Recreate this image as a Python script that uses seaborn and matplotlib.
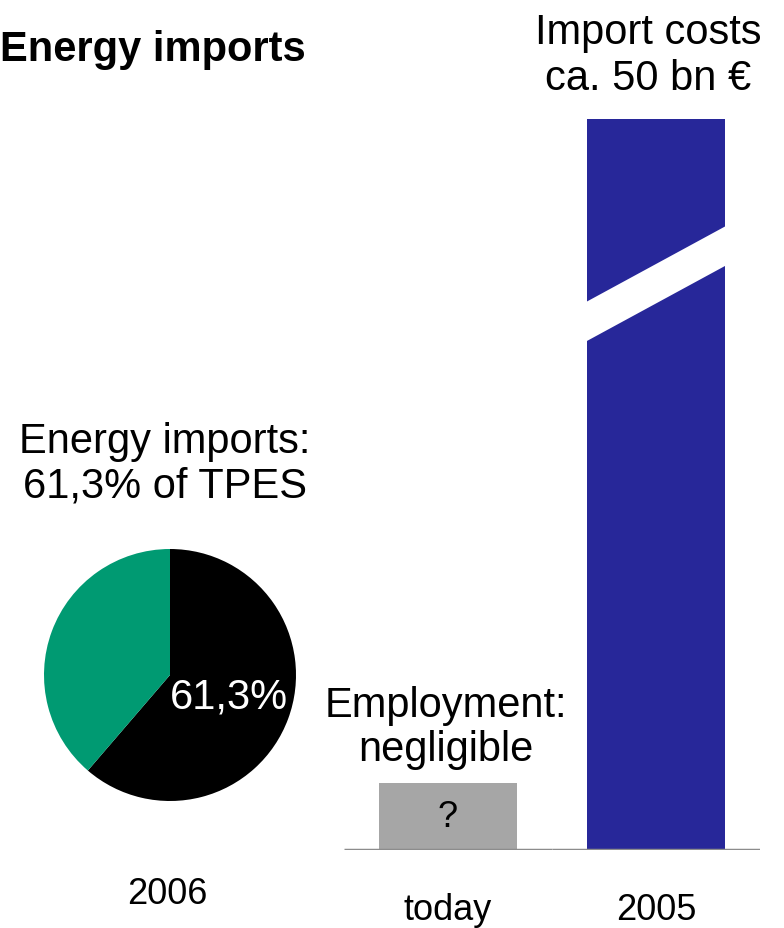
import matplotlib
matplotlib.use("Agg")
import matplotlib.pyplot as plt
import seaborn as sns
import numpy as np
import pandas as pd

# ---- data ----
pie_labels = ["Imported", "Domestic"]
pie_shares = [61.3, 38.7]
pie_year = "2006"

bar_categories = ["today", "2005"]
bar_values = [4.6, 50.0]          # relative heights (import-cost bar is broken)
bar_inner_labels = ["?", ""]
bar_top_labels = ["Employment:\nnegligible", "Import costs\nca. 50 bn \u20ac"]

title = "Energy imports"
pie_title = "Energy imports:\n61,3% of TPES"

# ---- style ----
sns.set_style("white")
plt.rcParams["font.family"] = ["Liberation Sans", "DejaVu Sans"]
plt.rcParams["text.color"] = "black"
plt.rcParams["xtick.color"] = "black"
plt.rcParams["xtick.labelcolor"] = "black"

W, H = 784, 929
fig = plt.figure(figsize=(W / 100, H / 100), dpi=100)

GREEN = "#009A72"
BLUE = "#272799"
GRAY_BAR = "#A6A6A6"
LINE = "#8C8C8C"

def fx(px):
    return px / W

def fy(py):
    return 1 - py / H

# ---- bar axes ----
axb = fig.add_axes([fx(344), fy(851), (760 - 344) / W, 751 / H])
df = pd.DataFrame({"cat": bar_categories, "val": bar_values})
sns.barplot(data=df, x="cat", y="val", hue="cat", palette=[GRAY_BAR, BLUE],
            width=0.663, saturation=1, legend=False, ax=axb, linewidth=0)
axb.set_xlim(-0.5, 1.5)
axb.set_ylim(0, bar_values[1] * 751 / 731)
for s in axb.spines.values():
    s.set_visible(False)
axb.set_yticks([])
axb.set_ylabel("")
axb.set_xlabel("")
axb.tick_params(axis="x", length=0, pad=30, labelsize=26, labelcolor="black")
for i in range(len(bar_categories)):
    axb.hlines(0, i - 0.5, i + 0.5, color=LINE, linewidth=2.5, zorder=5)

# inner label
axb.bar_label(axb.containers[0], labels=[bar_inner_labels[0]], label_type="center",
              fontsize=26, color="black")

# break in the tall bar
patch = axb.containers[1].patches[0] if len(axb.containers) > 1 else axb.patches[1]
x0 = patch.get_x() - 0.03
x1 = patch.get_x() + patch.get_width() + 0.03
slope = 7.73
gap = 2.7
yb = 34.82 + slope * (x0 - patch.get_x())
axb.fill([x0, x1, x1, x0],
         [yb, yb + slope * (x1 - x0), yb + slope * (x1 - x0) + gap, yb + gap],
         color="white", zorder=4, linewidth=0)

# ---- pie axes ----
axp = fig.add_axes([fx(44), fy(802), 252 / W, 252 / H])

def fmt(p):
    return (f"{p:.1f}".replace(".", ",") + "%") if p > 50 else ""

wedges, texts, autotexts = axp.pie(pie_shares, colors=["black", GREEN],
                                   startangle=90, counterclock=False,
                                   autopct=fmt, pctdistance=0.5,
                                   wedgeprops=dict(linewidth=0),
                                   textprops=dict(color="white", fontsize=30))
axp.set_xlim(-1, 1)
axp.set_ylim(-1, 1)

# ---- texts ----
fig.text(fx(0), fy(50), title, ha="left", va="center", fontsize=30, fontweight="bold")
fig.text(fx(165), fy(464), pie_title, ha="center", va="center", fontsize=30, linespacing=1.15)
fig.text(fx(167), fy(895), pie_year, ha="center", va="center", fontsize=26)
fig.text(fx(446), fy(728), bar_top_labels[0], ha="center", va="center", fontsize=30, linespacing=1.15)
fig.text(fx(648), fy(56), bar_top_labels[1], ha="center", va="center", fontsize=30, linespacing=1.22)

fig.savefig("out.png", dpi=100)
